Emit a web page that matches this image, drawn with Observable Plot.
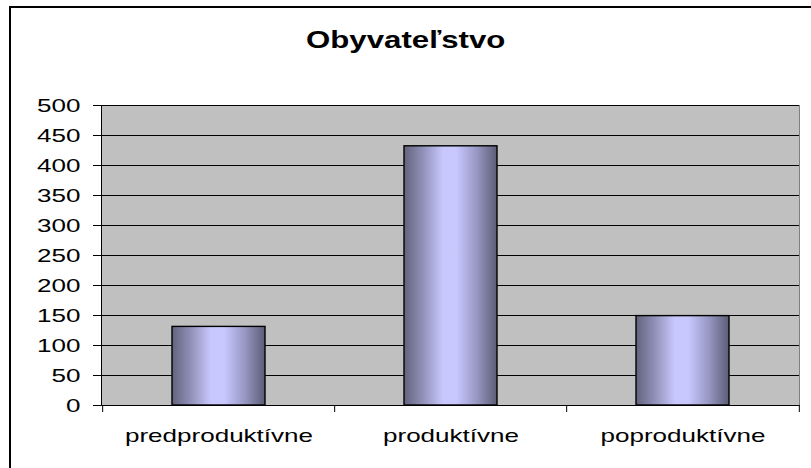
<!DOCTYPE html>
<html>
<head>
<meta charset="utf-8">
<script src="https://cdn.jsdelivr.net/npm/d3@7"></script>
<script src="https://cdn.jsdelivr.net/npm/@observablehq/plot@0.6"></script>
<style>
  html, body { margin: 0; padding: 0; background: #ffffff; }
  #wrap { position: relative; width: 811px; height: 468px; overflow: hidden; background: #fff;
          font-family: "Liberation Sans", Arial, sans-serif; }
  #border { position: absolute; left: 9px; top: 6px; width: 900px; height: 600px;
            border: 2px solid #000; pointer-events: none; box-sizing: border-box; }
  #title { height: 80px; box-sizing: border-box; padding-top: 28px; line-height: 24px;
           text-align: center; font-size: 24px; font-weight: bold; color: #000; }
  #title span { display: inline-block; transform: scaleX(1.3); transform-origin: center; }
  #chart svg { display: block; }
</style>
</head>
<body>
<div id="wrap">
  <div id="title"><span>Obyvateľstvo</span></div>
  <div id="chart"></div>
  <div id="border"></div>
</div>
<script>
const categories = ["predproduktívne", "produktívne", "poproduktívne"];
const values = [131, 432, 149];
const yTicks = [0, 50, 100, 150, 200, 250, 300, 350, 400, 450, 500];

const data = categories.map((c, i) => ({category: c, value: values[i]}));

const W = 811, H = 388;
const mL = 101, mR = 12, mT = 25, mB = 63;
const step = (W - mL - mR) / 3; // band step (padding 0.6 inner, 0.3 outer)
const S = 1.37; // horizontal text stretch as in the reference

const plot = Plot.plot({
  width: W,
  height: H,
  marginLeft: mL,
  marginRight: mR,
  marginTop: mT,
  marginBottom: mB,
  style: {fontFamily: "'Liberation Sans', Arial, sans-serif", background: "transparent", color: "#000"},
  x: {domain: categories, paddingInner: 0.6, paddingOuter: 0.3},
  y: {domain: [0, 500]},
  marks: [
    Plot.frame({fill: "#c0c0c0", stroke: "#808080"}),
    Plot.gridY(yTicks, {stroke: "#000", strokeOpacity: 1, strokeWidth: 1}),
    Plot.barY(data, {x: "category", y: "value", fill: "url(#barGrad)", stroke: "#000", strokeWidth: 1.4}),
    Plot.frame({anchor: "left", stroke: "#000"}),
    Plot.ruleY([0], {stroke: "#000"}),
    Plot.axisY(yTicks, {tickSize: 8, tickPadding: 13, fontSize: 19, label: null, stroke: "#000"}),
    Plot.axisX({tickSize: 0, tickPadding: 22.5, fontSize: 19, label: null}),
    Plot.axisX(categories, {tickSize: 7, dx: -step / 2, tickFormat: () => "", label: null, stroke: "#000"}),
    Plot.axisX([categories[categories.length - 1]], {tickSize: 7, dx: step / 2, tickFormat: () => "", label: null, stroke: "#000"})
  ]
});

// gradient definition for the bars
const svg = d3.select(plot);
const defs = svg.insert("defs", ":first-child");
const grad = defs.append("linearGradient").attr("id", "barGrad")
  .attr("x1", "0%").attr("x2", "100%").attr("y1", "0%").attr("y2", "0%");
[["0%", "#63637d"], ["20%", "#9090b8"], ["42%", "#c8c8fe"], ["56%", "#c8c8ff"], ["78%", "#9898c4"], ["100%", "#5c5c76"]]
  .forEach(([o, c]) => grad.append("stop").attr("offset", o).attr("stop-color", c));

document.getElementById("chart").appendChild(plot);

// stretch text horizontally like the reference rendering
plot.querySelectorAll("text").forEach(t => {
  const w = t.getComputedTextLength();
  if (w > 0) {
    t.setAttribute("textLength", (w * S).toFixed(1));
    t.setAttribute("lengthAdjust", "spacingAndGlyphs");
  }
});
</script>
</body>
</html>
